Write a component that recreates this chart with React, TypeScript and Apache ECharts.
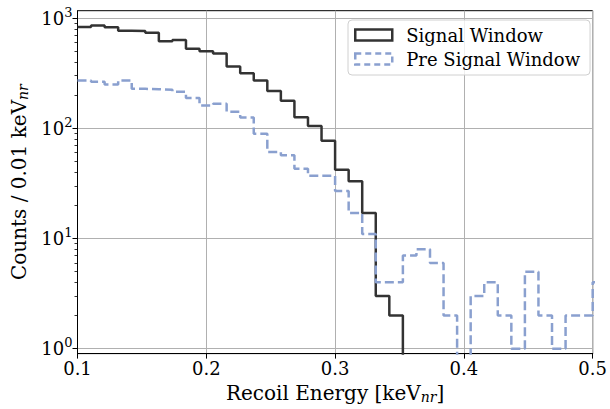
import React, { useEffect, useRef } from "react";
import * as echarts from "echarts";

// Histogram binning (38 equal bins spanning 0.1–0.5 keVnr)
const BIN_START = 0.1;
const BIN_END = 0.5;
const N_BINS = 38;

// Counts per bin, Signal Window (bins beyond the listed ones are empty)
const signalCounts = [
  829, 857, 825, 768, 765, 738, 617, 634, 527, 501, 478, 363, 316, 272, 218,
  178, 126, 105, 77, 42, 33, 17, 3, 2, 0,
];
// Counts per bin, Pre Signal Window (last bin lies just past the x-limit)
const preSignalCounts = [
  272, 264, 250, 272, 228, 226, 224, 215, 188, 161, 167, 141, 125, 89, 61, 57,
  43, 37, 37, 27, 17, 11, 4, 4, 7, 8, 6, 2, 0, 3, 4, 2, 1, 5, 2, 1, 2, 2, 4,
];

const xTicks = [0.1, 0.2, 0.3, 0.4, 0.5];
const yMajorTicks = [1, 10, 100, 1000];
const yMinorTicks = [
  2, 3, 4, 5, 6, 7, 8, 9, 20, 30, 40, 50, 60, 70, 80, 90, 200, 300, 400, 500,
  600, 700, 800, 900,
];
const Y_MIN = 0.902;
const Y_MAX = 1167;

const FONT = "DejaVu Serif";
const BLACK = "#333333";
const BLUE = "#8aa0cf";

function stepPoints(counts: number[]) {
  const w = (BIN_END - BIN_START) / N_BINS;
  const floor = 1e-3; // empty bins drop below the axis (clipped)
  const pts: [number, number][] = counts.map((c, k) => [
    BIN_START + k * w,
    c > 0 ? c : floor,
  ]);
  pts.push([BIN_START + counts.length * w, floor]);
  return pts;
}

export default function App() {
  const ref = useRef<HTMLDivElement>(null);
  useEffect(() => {
    if (!ref.current) return;
    const chart = echarts.init(ref.current, undefined, { renderer: "svg" });
    const left = 77.5;
    const top = 10.7;
    const right = 610 - 593.3;
    const bottom = 409 - 358.3;
    chart.setOption({
      animation: false,
      backgroundColor: "#ffffff",
      grid: {
        left,
        top,
        right,
        bottom,
        show: true,
        borderColor: "#000",
        borderWidth: 1,
        backgroundColor: "transparent",
        containLabel: false,
      },
      legend: {
        orient: "vertical",
        left: 348,
        top: 20,
        padding: [6, 10, 7, 6],
        itemWidth: 37,
        itemHeight: 11,
        itemGap: 6,
        backgroundColor: "rgba(255,255,255,0.8)",
        borderColor: "#d0d0d0",
        borderWidth: 1,
        borderRadius: 4,
        formatter: (name: string) => `{gap|}${name}`,
        textStyle: {
          fontFamily: FONT,
          fontSize: 18,
          color: "#000",
          rich: {
            gap: { width: 9, fontSize: 18 },
          },
        },
        data: [
          {
            name: "Signal Window",
            icon: "rect",
            itemStyle: {
              color: "rgba(0,0,0,0)",
              borderColor: BLACK,
              borderWidth: 2.5,
            },
          },
          {
            name: "Pre Signal Window",
            icon: "rect",
            itemStyle: {
              color: "rgba(0,0,0,0)",
              borderColor: BLUE,
              borderWidth: 2.5,
              borderType: [6, 4],
            },
          },
        ],
      },
      xAxis: {
        type: "value",
        min: xTicks[0],
        max: xTicks[xTicks.length - 1],
        interval: 0.1,
        name: "Recoil Energy [keV{sub|nr}]",
        nameLocation: "middle",
        nameGap: 25,
        nameTextStyle: {
          fontFamily: FONT,
          fontSize: 20,
          color: "#000",
          rich: {
            sub: {
              fontFamily: FONT,
              fontSize: 14,
              fontStyle: "italic",
              color: "#000",
              padding: [9, 0, 0, 0],
            },
          },
        },
        axisLine: { show: true, lineStyle: { color: "#000", width: 1 } },
        axisTick: {
          show: true,
          inside: false,
          length: 5,
          lineStyle: { color: "#000", width: 1 },
        },
        axisLabel: {
          fontFamily: FONT,
          fontSize: 18,
          color: "#000",
          margin: 6,
          formatter: (v: number) => v.toFixed(1),
        },
        splitLine: { show: true, lineStyle: { color: "#b0b0b0", width: 1 } },
      },
      yAxis: [
        {
          type: "log",
          logBase: 10,
          min: Y_MIN,
          max: Y_MAX,
          name: "Counts / 0.01 keV{sub|nr}",
          nameLocation: "middle",
          nameGap: 46,
          nameTextStyle: {
            fontFamily: FONT,
            fontSize: 20,
            color: "#000",
            rich: {
              sub: {
                fontFamily: FONT,
                fontSize: 14,
                fontStyle: "italic",
                color: "#000",
                padding: [9, 0, 0, 0],
              },
            },
          },
          axisLine: { show: true, lineStyle: { color: "#000", width: 1 } },
          axisTick: {
            show: true,
            inside: false,
            length: 5,
            customValues: yMajorTicks,
            lineStyle: { color: "#000", width: 1 },
          },
          axisLabel: {
            customValues: yMajorTicks,
            margin: 5,
            fontFamily: FONT,
            fontSize: 18,
            color: "#000",
            formatter: (v: number) =>
              `{b|10}{s|${Math.round(Math.log10(v))}}`,
            rich: {
              b: { fontFamily: FONT, fontSize: 18, color: "#000" },
              s: {
                fontFamily: FONT,
                fontSize: 13,
                color: "#000",
                padding: [0, 0, 12, 0],
              },
            },
          },
          splitLine: {
            show: true,
            lineStyle: { color: "#b0b0b0", width: 1 },
          },
        },
        {
          type: "log",
          logBase: 10,
          min: Y_MIN,
          max: Y_MAX,
          position: "left",
          axisLine: { show: false },
          axisLabel: { show: false },
          splitLine: { show: false },
          axisTick: {
            show: true,
            inside: false,
            length: 3,
            customValues: yMinorTicks,
            lineStyle: { color: "#000", width: 0.8 },
          },
        },
      ],
      series: [
        {
          name: "Signal Window",
          type: "line",
          step: "end",
          yAxisIndex: 0,
          symbol: "none",
          clip: true,
          data: stepPoints(signalCounts),
          lineStyle: { color: BLACK, width: 2.5 },
          itemStyle: { color: BLACK },
          z: 3,
        },
        {
          name: "Pre Signal Window",
          type: "line",
          step: "end",
          yAxisIndex: 0,
          symbol: "none",
          clip: true,
          data: stepPoints(preSignalCounts),
          lineStyle: { color: BLUE, width: 2.5, type: [9, 4] },
          itemStyle: { color: BLUE },
          z: 4,
        },
      ],
    });
    return () => chart.dispose();
  }, []);
  return (
    <div
      ref={ref}
      style={{ position: "fixed", left: 0, top: 0, width: 610, height: 409 }}
    />
  );
}
